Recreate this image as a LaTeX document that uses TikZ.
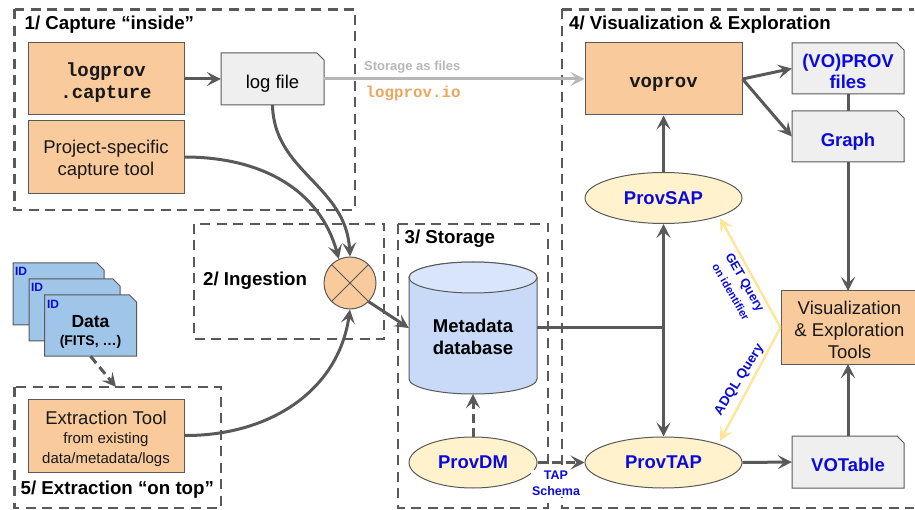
\documentclass[tikz,border=0pt]{standalone}
\usepackage{fontspec}
\setmainfont{Liberation Sans}
\setmonofont{Liberation Mono}
\usetikzlibrary{arrows.meta,shapes.geometric}
\definecolor{dk}{HTML}{595959}
\definecolor{orng}{HTML}{F9CB9C}
\definecolor{gry}{HTML}{EFEFEF}
\definecolor{lblue}{HTML}{C9DAF8}
\definecolor{dblue}{HTML}{9FC5E8}
\definecolor{yel}{HTML}{FFF2CC}
\definecolor{yarrow}{HTML}{FFE599}
\definecolor{txtblue}{HTML}{0B0BD9}
\definecolor{lgry}{HTML}{B7B7B7}
\definecolor{ioorange}{HTML}{E69138}
\newcommand{\fsz}[1]{\fontsize{#1}{#1}\selectfont}
% text set lower than the centre of its node by #1 pt (from the optical centre)
\newcommand{\dn}[2]{\raisebox{\dimexpr-#1pt-0.25em\relax}[0pt][0pt]{\begin{tabular}{@{}c@{}}#2\end{tabular}}}
\tikzset{
  x=1pt,y=-1pt,
  group/.style={draw=dk,line width=2.7pt,dash pattern=on 10pt off 6.5pt},
  grouplabel/.style={font=\fsz{18.7}\bfseries,inner sep=0pt,anchor=west},
  tool/.style={draw=dk,fill=orng,line width=1pt,inner sep=0pt,align=center,font=\fsz{18.5},text=black!90},
  svc/.style={draw=dk,fill=yel,line width=1pt,ellipse,inner sep=0pt,font=\fsz{18.5}\bfseries,text=txtblue,minimum width=157pt,minimum height=51pt},
  tip/.style={-{Stealth[length=14pt,width=14pt,inset=6pt]}},
  conn/.style={draw=dk,line width=3pt,tip},
  plainconn/.style={draw=dk,line width=3pt},
  dconn/.style={conn,dash pattern=on 9pt off 5pt},
  pale/.style={draw=lgry,line width=3pt,tip},
  yconn/.style={draw=yarrow,line width=2.4pt,tip},
  bluelabel/.style={text=txtblue,inner sep=0pt,align=center}
}
\newcommand{\docnode}[8]{% name x1 y1 x2 y2 fill font text
  \path[draw=dk,fill=#6,line width=1pt] (#2,#3) -- ({#4-7},#3) -- (#4,{#3+7}) -- (#4,#5) -- (#2,#5) -- cycle;
  \node[inner sep=0pt,minimum width={#4-#2},minimum height={#5-#3},align=center,font=#7] (#1) at ({(#2+#4)/2},{(#3+#5)/2}) {#8};
}
\begin{document}
\begin{tikzpicture}
\useasboundingbox (0,0) rectangle (915,510);
% groups
\draw[group] (14.5,9.5) rectangle (355,210);
\draw[group] (194,224) rectangle (384,339);
\draw[group] (398,224) rectangle (548,508);
\draw[group] (562,9.5) -- (914,9.5);
\draw[group] (562,9.5) -- (562,508) -- (914,508);
\draw[group] (14.5,387) rectangle (221,508);
% labels
\node[grouplabel] (g1) at (24.5,24.5) {1/ Capture “inside”};
\node[grouplabel] (g2) at (203,280.5) {2/ Ingestion};
\node[grouplabel] (g3) at (404.5,238.5) {3/ Storage};
\node[grouplabel] (g4) at (569,24.5) {4/ Visualization \& Exploration};
\node[grouplabel] (g5) at (20.5,490) {5/ Extraction “on top”};
% tools
\node[tool,minimum width=156pt,minimum height=72pt,font=\fsz{19}\ttfamily\bfseries] (logprov) at (106,79) {\dn{4}{logprov\\[3pt].capture}};
\node[tool,minimum width=156pt,minimum height=73pt] (project) at (106,157) {\dn{3.5}{Project-specific\\[3.5pt]capture tool}};
\node[tool,minimum width=156pt,minimum height=73pt] (extract) at (106,435.5) {\dn{4}{Extraction Tool\\[1pt]{\fsz{15}from existing}\\[1pt]{\fsz{15}data/metadata/logs}}};
\node[tool,minimum width=157pt,minimum height=72pt,font=\fsz{19}\ttfamily\bfseries] (voprov) at (663.5,79) {\dn{4.5}{voprov}};
\node[tool,minimum width=137pt,minimum height=73pt] (vis) at (849.5,327.5) {\dn{4.5}{Visualization\\[3pt]\&\ Exploration\\[3pt]Tools}};
% documents
\docnode{logfile}{221}{53}{324}{105}{gry}{\fsz{18.5}}{\dn{5}{log file}}
\docnode{files}{792}{43}{904}{94}{gry}{\fsz{18.5}\bfseries\color{txtblue}}{\dn{5.5}{(VO)PROV\\[2.5pt]files}}
\docnode{graph}{792}{111}{904}{162}{gry}{\fsz{18.5}\bfseries\color{txtblue}}{\dn{5.5}{Graph}}
\docnode{votable}{792}{436}{904}{488}{gry}{\fsz{18.5}\bfseries\color{txtblue}}{\dn{5}{VOTable}}
\docnode{dataa}{13}{263}{104}{325}{dblue}{\fsz{12}}{}
\docnode{datab}{29}{279}{120}{341}{dblue}{\fsz{12}}{}
\docnode{datac}{44.5}{295}{136.5}{356}{dblue}{\fsz{17.5}\bfseries}{\dn{7.5}{Data\\[1pt]{\fsz{14}(FITS, …)}}}
\node[inner sep=0pt,font=\fsz{12}\bfseries,text=txtblue] (ida) at (21,271) {ID};
\node[inner sep=0pt,font=\fsz{12}\bfseries,text=txtblue] (idb) at (37,287) {ID};
\node[inner sep=0pt,font=\fsz{12}\bfseries,text=txtblue] (idc) at (53,304) {ID};
% database
\path[draw=dk,fill=lblue,line width=1pt] (409,277.5) -- (409,379) arc[start angle=180,end angle=360,x radius=64,y radius=-15] -- (537,277.5) arc[start angle=0,end angle=-180,x radius=64,y radius=15.5] -- cycle;
\path[draw=dk,fill=lblue!70!white,line width=1pt] (473,277.5) ellipse [x radius=64,y radius=15.5];
\node[inner sep=0pt,minimum width=128pt,minimum height=132pt,align=center,font=\fsz{18.5}\bfseries] (db) at (473,328) {\dn{11}{Metadata\\[3pt]database}};
% mix
\node[circle,draw=dk,fill=orng,line width=1pt,minimum size=52pt,inner sep=0pt] (mix) at (350,283) {};
\draw[dk,line width=1pt] (mix.45) -- (mix.225) (mix.135) -- (mix.315);
% services
\node[svc] (provsap) at (663.5,198) {ProvSAP};
\node[svc] (provtap) at (663.5,462.5) {ProvTAP};
\node[svc,minimum width=128pt] (provdm) at (473,462.5) {ProvDM};
% connectors
\draw[conn] (logprov.east) -- (logfile.west);
\draw[pale] (logfile.east) -- (voprov.west);
\node[inner sep=0pt,font=\fsz{13}\bfseries,text=lgry,anchor=west] (stg) at (364,67) {Storage as files};
\node[inner sep=0pt,font=\fsz{15.8}\ttfamily\bfseries,text=ioorange!80,anchor=west] (io) at (365.5,93.5) {logprov.io};
\draw[conn] (logfile.south) .. controls (274,172) and (346,185) .. (mix.north);
\draw[conn] (project.east) .. controls (262,157) and (320,190) .. (mix.115);
\draw[conn] (extract.east) .. controls (268,436) and (338,392) .. (mix.south);
\draw[conn] (mix.315) -- (db.west);
\coordinate (extin) at (116,387);
\draw[dconn] (datac.south) -- (extin);
\draw[dconn] (provdm.north) -- (db.south);
\draw[dconn] (provdm.east) -- (provtap.west);
\coordinate (jn) at (provsap.south |- db.east);
\draw[plainconn] (db.east) -- (jn);
\draw[conn] (jn) -- (provsap.south);
\draw[conn] (jn) -- (provtap.north);
\draw[conn] (provsap.north) -- (voprov.south);
\draw[conn] (voprov.east) -- (files.west);
\draw[conn] (voprov.east) -- (graph.west);
\draw[plainconn] (848,94) -- (848,111);
\draw[conn] (848,162) -- (848,291);
\draw[conn] (848,436) -- (848,364);
\draw[conn] (provtap.east) -- (votable.west);
\coordinate (sapin) at (720,218);
\coordinate (tapin) at (720,441);
\draw[yconn] (vis.west) -- (sapin);
\draw[yconn] (vis.west) -- (tapin);
% link labels
\node[bluelabel,fill=white,inner sep=1pt,font=\fsz{12.5}\bfseries] (tap) at (556,483.5) {TAP\\[4pt]Schema};
\node[bluelabel,font=\fsz{12.5}\bfseries,rotate=-60] (get) at (744,283) {GET Query};
\node[bluelabel,font=\fsz{11}\bfseries,rotate=-60] (oni) at (731,292) {on identifier};
\node[bluelabel,font=\fsz{13.5}\bfseries,rotate=58] (adql) at (739.5,380) {ADQL Query};
\end{tikzpicture}
\end{document}
